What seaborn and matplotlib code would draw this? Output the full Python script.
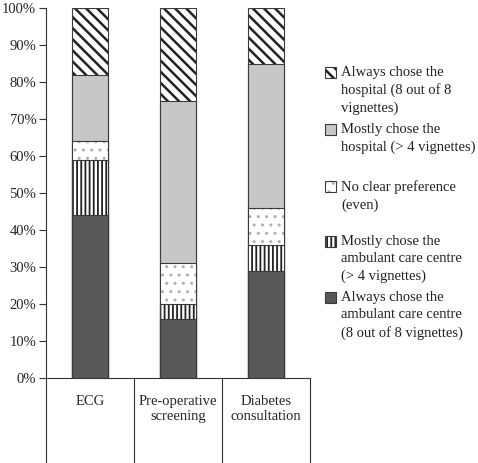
import numpy as np
import matplotlib
matplotlib.use("Agg")
import matplotlib.pyplot as plt
import seaborn as sns
from matplotlib.patches import Rectangle
from matplotlib.colors import to_rgba

# data (percent of respondents per scenario)
tasks = ["ECG", "Pre-operative\nscreening", "Diabetes\nconsultation"]
always_amb = [44, 16, 29]
mostly_amb = [15, 4, 7]
no_pref = [5, 11, 10]
mostly_hosp = [18, 44, 39]
always_hosp = [18, 25, 15]

labels = [
    "Always chose the\nambulant care centre\n(8 out of 8 vignettes)",
    "Mostly chose the\nambulant care centre\n(> 4 vignettes)",
    "No clear preference\n(even)",
    "Mostly chose the\nhospital (> 4 vignettes)",
    "Always chose the\nhospital (8 out of 8\nvignettes)",
]
yticks = list(range(0, 101, 10))

# styles, bottom -> top
faces = ["#58585a", "white", "white", "#c6c7c9", "white"]
hatches = [None, "||||", "..", None, "\\\\\\"]
hatch_lw = [1.0, 1.3, 1.0, 1.0, 1.8]
hatch_col = ["#333333", "#222222", "#b0b0b0", "#333333", "#222222"]
edge = "#3a3a3a"

sns.set_style("white")
plt.rcParams["font.family"] = ["Liberation Serif", "DejaVu Serif"]
plt.rcParams["text.color"] = "#222222"


def style_patch(p, i):
    if hasattr(p, "set_hatch_linewidth"):
        p.set_hatch_linewidth(hatch_lw[i])
    p._hatch_color = to_rgba(hatch_col[i])


fig = plt.figure(figsize=(4.78, 4.63), dpi=100)
ax = fig.add_axes([46 / 478, 85 / 463, 264 / 478, 370 / 463])

layers = np.array([always_amb, mostly_amb, no_pref, mostly_hosp, always_hosp])
cum = np.cumsum(layers, axis=0)

# draw cumulative bars from the top layer down so lower ones overlay
for i in range(len(layers) - 1, -1, -1):
    n0 = len(ax.patches)
    sns.barplot(x=tasks, y=cum[i], color=faces[i], saturation=1, width=0.4,
                edgecolor=edge, linewidth=0.8, hatch=hatches[i],
                errorbar=None, ax=ax)
    for p in ax.patches[n0:]:
        p.set_facecolor(faces[i])
        style_patch(p, i)

ax.set_xlim(-0.5, 2.5)
ax.set_ylim(0, 100)
ax.set_yticks(yticks)
ax.set_yticklabels([f"{v}%" for v in yticks], fontsize=10.5)
ax.tick_params(axis="y", direction="out", length=5, width=0.8, color="#333333", pad=2, left=True)
ax.tick_params(axis="x", length=0, pad=12, labelsize=10.5)
ax.set_xlabel("")
ax.set_ylabel("")

for s in ["top", "right"]:
    ax.spines[s].set_visible(False)
for s in ["left", "bottom"]:
    ax.spines[s].set_color("#333333")
    ax.spines[s].set_linewidth(0.8)

# category separators below the axis
trans = ax.get_xaxis_transform()
for xb in [-0.5, 0.5, 1.5, 2.5]:
    ax.plot([xb, xb], [0, -0.235], color="#333333", lw=0.8, transform=trans, clip_on=False)

# legend, top entry first
W, H = 478, 463
tops = [67, 124, 181, 236, 292]
for k, i in enumerate(range(len(layers) - 1, -1, -1)):
    y = tops[k]
    r = Rectangle((325 / W, 1 - (y + 11) / H), 11 / W, 11 / H, transform=fig.transFigure,
                  facecolor=faces[i], edgecolor=edge, linewidth=0.8, hatch=hatches[i])
    style_patch(r, i)
    fig.add_artist(r)
    fig.text(341 / W, 1 - (y - 1) / H, labels[i], fontsize=10.5, va="top", ha="left",
             linespacing=1.42)

fig.savefig("out.png", dpi=100)
